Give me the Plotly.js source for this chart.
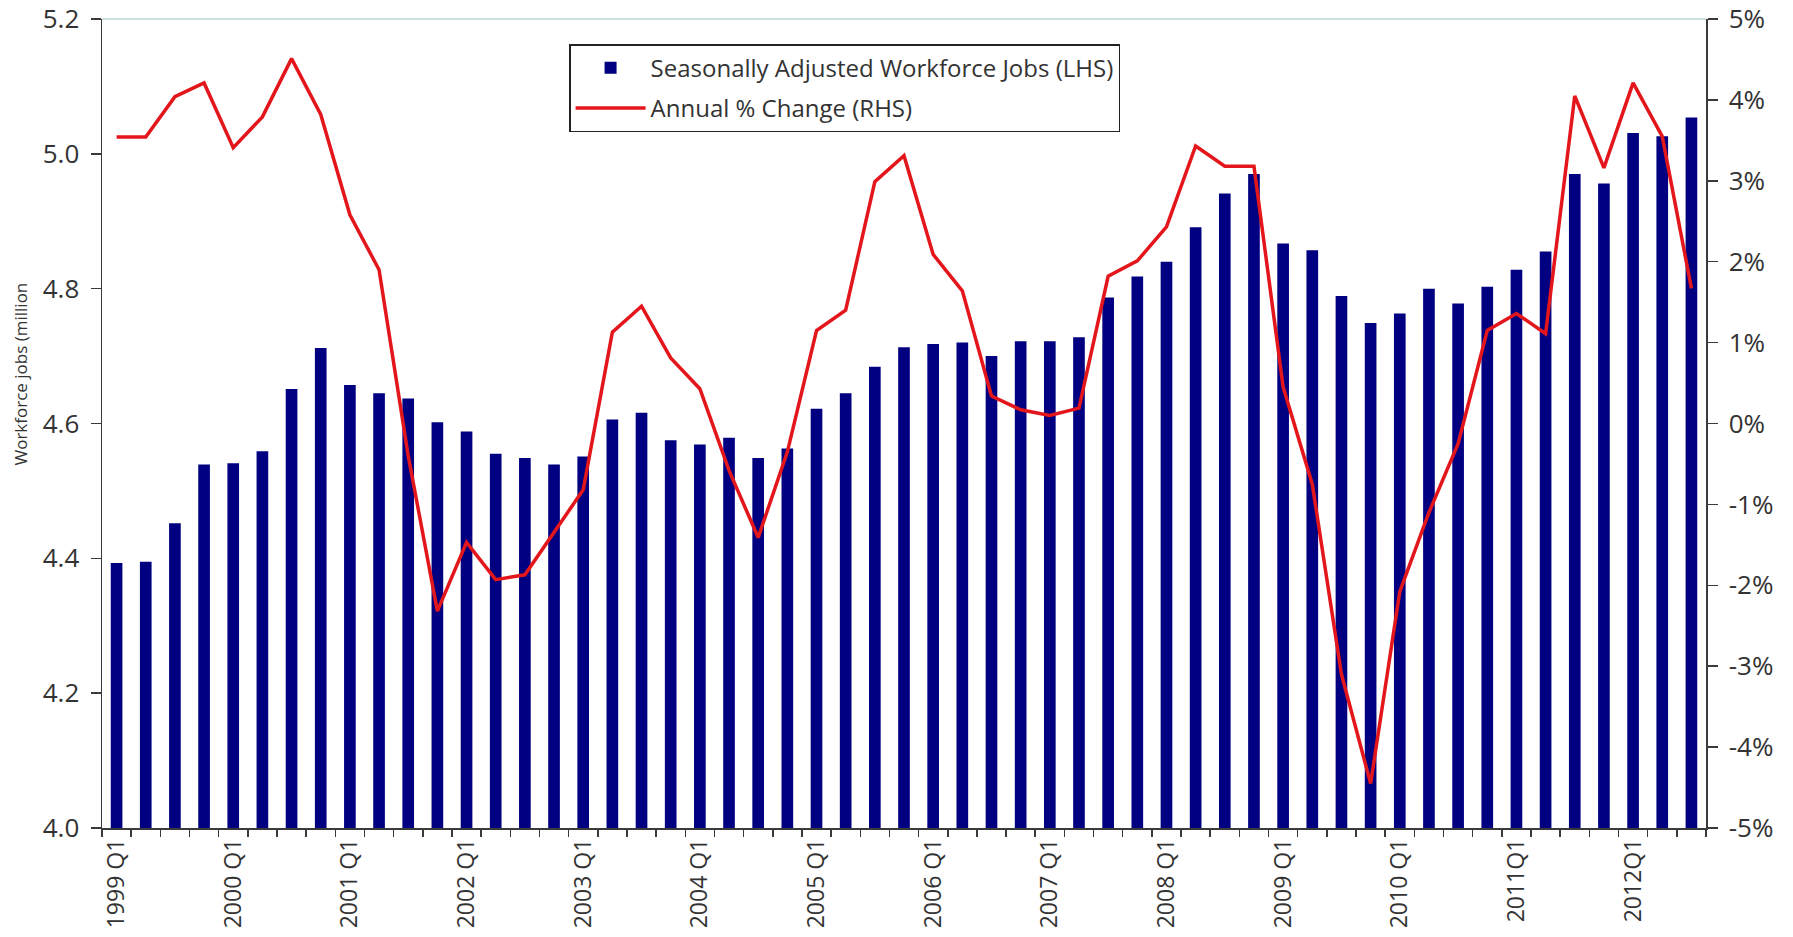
<!DOCTYPE html>
<html><head><meta charset="utf-8">
<script src="https://cdn.plot.ly/plotly-3.0.1.min.js"></script>
<style>html,body{margin:0;padding:0;background:#fff}#chart{width:1793px;height:937px}</style>
</head><body><div id="chart"></div>
<script>
const quarters = [
  "1999 Q1","1999 Q2","1999 Q3","1999 Q4",
  "2000 Q1","2000 Q2","2000 Q3","2000 Q4",
  "2001 Q1","2001 Q2","2001 Q3","2001 Q4",
  "2002 Q1","2002 Q2","2002 Q3","2002 Q4",
  "2003 Q1","2003 Q2","2003 Q3","2003 Q4",
  "2004 Q1","2004 Q2","2004 Q3","2004 Q4",
  "2005 Q1","2005 Q2","2005 Q3","2005 Q4",
  "2006 Q1","2006 Q2","2006 Q3","2006 Q4",
  "2007 Q1","2007 Q2","2007 Q3","2007 Q4",
  "2008 Q1","2008 Q2","2008 Q3","2008 Q4",
  "2009 Q1","2009 Q2","2009 Q3","2009 Q4",
  "2010 Q1","2010 Q2","2010 Q3","2010 Q4",
  "2011 Q1","2011 Q2","2011 Q3","2011 Q4",
  "2012 Q1","2012 Q2","2012 Q3"
];
// Seasonally adjusted workforce jobs (million), left axis
const jobs = [
  4.393, 4.395, 4.452, 4.539,
  4.541, 4.559, 4.651, 4.712,
  4.657, 4.645, 4.637, 4.602,
  4.588, 4.555, 4.549, 4.539,
  4.551, 4.606, 4.616, 4.575,
  4.569, 4.579, 4.549, 4.563,
  4.622, 4.645, 4.684, 4.713,
  4.718, 4.720, 4.700, 4.722,
  4.722, 4.728, 4.787, 4.818,
  4.840, 4.891, 4.941, 4.970,
  4.867, 4.857, 4.789, 4.749,
  4.763, 4.800, 4.778, 4.803,
  4.828, 4.855, 4.970, 4.956,
  5.031, 5.026, 5.054
];
// Annual % change, right axis
const pctChange = [
  3.54, 3.54, 4.04, 4.21,
  3.41, 3.79, 4.51, 3.82,
  2.58, 1.90, -0.40, -2.32,
  -1.47, -1.93, -1.87, -1.35,
  -0.82, 1.13, 1.45, 0.81,
  0.43, -0.58, -1.41, -0.35,
  1.15, 1.40, 2.99, 3.31,
  2.09, 1.64, 0.34, 0.17,
  0.10, 0.19, 1.82, 2.01,
  2.43, 3.43, 3.18, 3.18,
  0.45, -0.75, -3.10, -4.45,
  -2.08, -1.10, -0.25, 1.15,
  1.36, 1.11, 4.05, 3.16,
  4.21, 3.55, 1.67
];
const tickCats = ["1999 Q1","2000 Q1","2001 Q1","2002 Q1","2003 Q1","2004 Q1","2005 Q1",
                  "2006 Q1","2007 Q1","2008 Q1","2009 Q1","2010 Q1","2011 Q1","2012 Q1"];
const tickLabels = ["1999 Q1","2000 Q1","2001 Q1","2002 Q1","2003 Q1","2004 Q1","2005 Q1",
                    "2006 Q1","2007 Q1","2008 Q1","2009 Q1","2010 Q1","2011Q1","2012Q1"];
const leftTicks = [4.0, 4.2, 4.4, 4.6, 4.8, 5.0, 5.2];
const leftTickText = ["4.0","4.2","4.4","4.6","4.8","5.0","5.2"];
const rightTicks = [-5,-4,-3,-2,-1,0,1,2,3,4,5];
const rightTickText = ["-5%","-4%","-3%","-2%","-1%","0%","1%","2%","3%","4%","5%"];
const seriesNames = ["Seasonally Adjusted Workforce Jobs (LHS)", "Annual % Change (RHS)"];
const yTitle = "Workforce jobs (million";

const xText = quarters.map(q => { const k = tickCats.indexOf(q); return k >= 0 ? tickLabels[k] : ""; });

const AX = '#3a3a3a';
const traces = [
  { type: 'bar', x: quarters, y: jobs, name: seriesNames[0], yaxis: 'y',
    marker: { color: '#000080' }, legendgroup: 'a' },
  { type: 'scatter', mode: 'lines', x: quarters, y: pctChange, name: seriesNames[1], yaxis: 'y2',
    line: { color: '#e3161c', width: 3.5 }, legendgroup: 'b' }
];

const layout = {
  width: 1793, height: 937,
  margin: { l: 102, r: 87, t: 19, b: 109, pad: 0 },
  paper_bgcolor: '#ffffff', plot_bgcolor: '#ffffff',
  font: { family: 'Open Sans, sans-serif', color: '#333333' },
  bargap: 0.6,
  showlegend: true,
  legend: { x: 0.2912, y: 0.969, xanchor: 'left', yanchor: 'top', bgcolor: '#ffffff',
            bordercolor: '#222222', borderwidth: 1.5, font: { size: 24, color: '#333333' },
            traceorder: 'grouped', tracegroupgap: 6, itemwidth: 70 },
  xaxis: { type: 'category', categoryorder: 'array', categoryarray: quarters, range: [-0.5, 54.5],
           tickmode: 'array', tickvals: quarters, ticktext: xText, tickson: 'boundaries',
           ticks: 'outside', ticklen: 7, tickwidth: 1.5, tickcolor: AX, tickangle: -90,
           tickfont: { size: 23, color: '#333333' }, showline: true, linecolor: AX, linewidth: 1.5,
           showgrid: false, zeroline: false, fixedrange: true, ticklabeloverflow: 'allow' },
  xaxis3: { overlaying: 'x', anchor: 'y', type: 'linear', range: [-0.5, 54.5], tick0: 0.5, dtick: 1,
            ticks: 'inside', ticklen: 6, tickwidth: 1.5, tickcolor: AX, showticklabels: false,
            showgrid: false, zeroline: false, showline: false, side: 'bottom' },
  yaxis: { range: [4, 5.2], tickmode: 'array', tickvals: leftTicks, ticktext: leftTickText,
           ticks: 'outside', ticklen: 10, tickwidth: 1.5, tickcolor: AX, ticklabelstandoff: 6,
           ticklabeloverflow: 'allow',
           tickfont: { size: 26, color: '#333333' }, showline: true, linecolor: AX, linewidth: 1.5,
           showgrid: false, zeroline: false, fixedrange: true },
  yaxis3: { overlaying: 'y', anchor: 'x', side: 'left', range: [4, 5.2], tickmode: 'array', tickvals: leftTicks,
            ticks: 'inside', ticklen: 10, tickwidth: 1.5, tickcolor: AX, showticklabels: false,
            showgrid: false, zeroline: false, showline: false },
  yaxis2: { overlaying: 'y', anchor: 'x', side: 'right', range: [-5, 5], tickmode: 'array',
            tickvals: rightTicks, ticktext: rightTickText, ticks: 'outside', ticklen: 10, tickwidth: 1.5,
            tickcolor: AX, ticklabelstandoff: 6, ticklabeloverflow: 'allow',
            tickfont: { size: 26, color: '#333333' }, showline: true,
            linecolor: AX, linewidth: 1.5, showgrid: false, zeroline: false, fixedrange: true },
  yaxis4: { overlaying: 'y', anchor: 'x', side: 'right', range: [-5, 5], tickmode: 'array', tickvals: rightTicks,
            ticks: 'inside', ticklen: 10, tickwidth: 1.5, tickcolor: AX, showticklabels: false,
            showgrid: false, zeroline: false, showline: false },
  shapes: [
    { type: 'line', xref: 'paper', yref: 'paper', x0: 0, x1: 1, y0: 1, y1: 1,
      line: { color: '#bcd6d6', width: 1.5 } }
  ],
  annotations: [
    { text: yTitle, xref: 'paper', yref: 'paper', x: -0.0511, y: 0.5606, textangle: -90,
      showarrow: false, xanchor: 'center', yanchor: 'middle', font: { size: 17, color: '#333333' } }
  ]
};

Plotly.newPlot('chart', traces, layout, { staticPlot: true, displayModeBar: false });
</script>
</body></html>
